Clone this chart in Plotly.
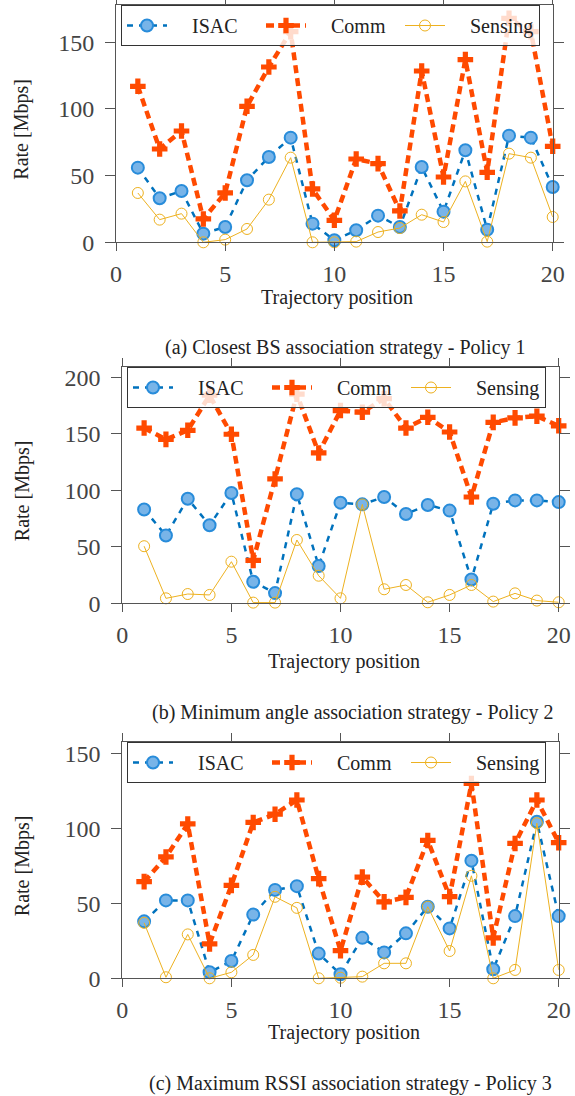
import plotly.graph_objects as go

positions = list(range(1, 21))

# Policy 1 - Closest BS
isac_p1 = [56, 33, 38.5, 6.5, 11.5, 46.5, 64, 78.5, 14, 1.5, 9, 20, 11.5, 56.5, 23, 69, 9.5, 80, 78.5, 41.5]
comm_p1 = [117, 70, 83.5, 17.5, 37, 102, 131.5, 158, 40, 16.5, 62.5, 59, 23.5, 128.5, 49, 137, 52.5, 168, 158, 72]
sens_p1 = [37, 17, 21.5, 0, 2, 10, 32, 63.5, 0, 0, 0.5, 7.7, 10.7, 20.7, 15.2, 45.7, 0.5, 66.5, 63.5, 19]

# Policy 2 - Minimum angle
isac_p2 = [83, 60, 92.5, 69, 97.5, 19, 9, 96.5, 33, 89, 87.5, 94, 79, 87, 82, 21, 88, 91, 91, 89.5]
comm_p2 = [155, 145, 153, 184, 149.5, 38, 110, 185, 133, 170.5, 169, 181, 155, 164.5, 151.5, 94, 160, 164, 165.5, 157]
sens_p2 = [50.5, 4.4, 8.2, 7.4, 36.8, 0.6, 0.6, 56, 24.4, 4.4, 87.4, 12.4, 16.2, 0.9, 7.4, 16.2, 1.5, 8.8, 2.4, 0.9]

# Policy 3 - Maximum RSSI
isac_p3 = [38, 52, 52, 4, 11.5, 42.5, 59, 61.5, 16.5, 2.7, 27, 17.3, 30, 47.8, 33.3, 78.5, 6, 41.5, 104.5, 41.5]
comm_p3 = [64.5, 81, 103, 23, 62, 104, 109.5, 119, 66.5, 18.5, 67.5, 51, 54, 92, 54.5, 130, 27, 90, 119, 90.5]
sens_p3 = [37, 0.7, 29.3, 0, 4, 15.6, 54.4, 47, 0, 0.4, 1.1, 10, 10, 47.8, 18.2, 68.4, 0, 5.6, 103.5, 5.6]

series_names = ["ISAC", "Comm", "Sensing"]
x_ticks = [0, 5, 10, 15, 20]
y_ticks = [[0, 50, 100, 150], [0, 50, 100, 150, 200], [0, 50, 100, 150]]
y_ranges = [[0, 178], [0, 209], [0, 157.7]]
captions = ["(a) Closest BS association strategy - Policy 1",
            "(b) Minimum angle association strategy - Policy 2",
            "(c) Maximum RSSI association strategy - Policy 3"]

W, H = 575, 1096
# plot areas in pixels: (left, right, top, bottom)
areas = [(116, 552.7, 5, 242.3), (122.3, 558.7, 367, 603.3), (122.3, 558.7, 742, 978.3)]
legend_pos = [(121, 5), (127, 367), (127, 742)]
xtitle_y = [297, 661, 1032]
caption_pos = [(346, 347), (353, 712), (350, 1083)]

SERIF = "Liberation Serif"
data = [(isac_p1, comm_p1, sens_p1), (isac_p2, comm_p2, sens_p2), (isac_p3, comm_p3, sens_p3)]

fig = go.Figure()
annotations = []
for i, (isac, comm, sens) in enumerate(data):
    k = "" if i == 0 else str(i + 1)
    leg = "legend" + k
    xa, ya = "x" + k, "y" + k
    nb = "\u00a0\u00a0\u00a0\u00a0"
    fig.add_trace(go.Scatter(
        x=positions, y=isac, name=nb + series_names[0], mode="lines+markers",
        line=dict(color="#0072BD", width=2.5, dash="6px,6px"),
        marker=dict(symbol="circle", size=12, color="rgb(120,180,232)",
                    line=dict(color="rgb(40,140,218)", width=2)),
        xaxis=xa, yaxis=ya, legend=leg, cliponaxis=False))
    fig.add_trace(go.Scatter(
        x=positions, y=comm, name=nb + series_names[1], mode="lines+markers",
        line=dict(color="#FF4A00", width=4.5, dash="8px,5px"),
        marker=dict(symbol="cross", size=13, color="#FF4A00", line=dict(width=0)),
        xaxis=xa, yaxis=ya, legend=leg, cliponaxis=False))
    fig.add_trace(go.Scatter(
        x=positions, y=sens, name=nb + series_names[2], mode="lines+markers",
        line=dict(color="#EDB120", width=1),
        marker=dict(symbol="circle-open", size=11, color="#EDB120", line=dict(width=1)),
        xaxis=xa, yaxis=ya, legend=leg, cliponaxis=False))

    l, r, t, b = areas[i]
    axcommon = dict(showline=True, mirror="allticks", linecolor="#555", linewidth=1,
                    ticks="outside", tickcolor="#555", tickwidth=1,
                    showgrid=False, zeroline=False, automargin=False,
                    tickfont=dict(family=SERIF, size=24, color="#444"))
    fig.update_layout(**{
        "xaxis" + k: dict(domain=[l / W, r / W], range=[0, 20], tickvals=x_ticks,
                          ticklen=8, anchor="y" + k, ticklabelstandoff=2, **axcommon),
        "yaxis" + k: dict(domain=[1 - b / H, 1 - t / H], range=y_ranges[i], tickvals=y_ticks[i],
                          ticklen=10, anchor="x" + k, ticklabelstandoff=6, **axcommon),
        leg: dict(x=legend_pos[i][0] / W, y=1 - legend_pos[i][1] / H, xanchor="left", yanchor="top",
                  orientation="h", bgcolor="rgba(255,255,255,0.8)", bordercolor="#333", borderwidth=1,
                  font=dict(family=SERIF, size=20, color="#222"), itemwidth=40, entrywidth=84,
                  tracegroupgap=0),
    })
    annotations.append(dict(text="Rate [Mbps]", x=22 / W, y=1 - ((t + b) / 2 + 6) / H,
                            xref="paper", yref="paper", showarrow=False, textangle=-90,
                            xanchor="center", yanchor="middle",
                            font=dict(family=SERIF, size=20, color="#222")))
    annotations.append(dict(text="Trajectory position", x=((l + r) / 2 + 3) / W, y=1 - xtitle_y[i] / H,
                            xref="paper", yref="paper", showarrow=False,
                            xanchor="center", yanchor="middle",
                            font=dict(family=SERIF, size=20, color="#222")))
    annotations.append(dict(text=captions[i], x=caption_pos[i][0] / W, y=1 - caption_pos[i][1] / H,
                            xref="paper", yref="paper", showarrow=False,
                            xanchor="center", yanchor="middle",
                            font=dict(family=SERIF, size=20, color="#222")))

fig.update_layout(width=W, height=H, autosize=False,
                  margin=dict(l=0, r=0, t=0, b=0, autoexpand=False),
                  plot_bgcolor="white", paper_bgcolor="white",
                  annotations=annotations, showlegend=True)
fig.write_html("out.html",
               config={"responsive": False, "displayModeBar": False},
               post_script="document.documentElement.style.overflow='hidden';"
                           "document.body.style.margin='0';document.body.style.padding='0';"
                           "document.body.style.overflow='hidden';")
